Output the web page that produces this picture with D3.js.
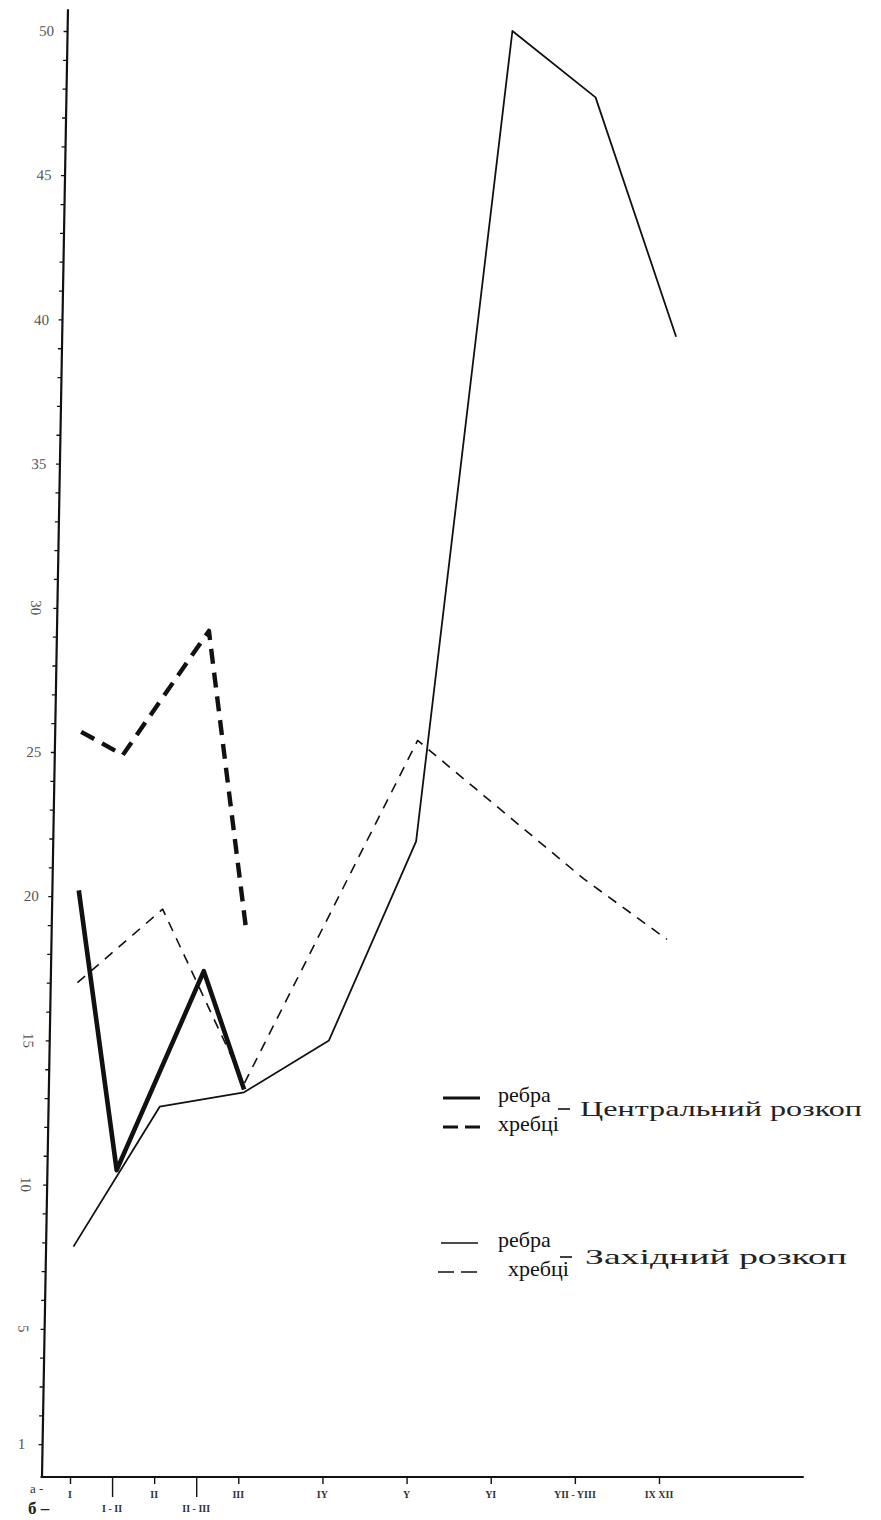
<!DOCTYPE html>
<html>
<head>
<meta charset="utf-8">
<script src="https://cdn.jsdelivr.net/npm/d3@7"></script>
<style>
  html, body { margin: 0; padding: 0; background: #fff; }
  svg { display: block; }
</style>
</head>
<body>
<div id="chart"></div>
<script>
// ---------- DATA ----------
// x categories (row "а" = main periods, row "б" = transitional periods)
const categories = ["I", "I - II", "II", "II - III", "III", "IY", "Y", "YI", "YII - YIII", "IX  XII"];
const categoryIndex = [1, 1.5, 2, 2.5, 3, 4, 5, 6, 7, 8];
const categoryRow = ["a", "b", "a", "b", "a", "a", "a", "a", "a", "a"];

// Центральний розкоп
const centralRibsCats = ["I", "I - II", "II - III", "III"];
const centralRibsVals = [20.2, 10.5, 17.4, 13.3];
const centralSpineCats = ["I", "I - II", "II - III", "III"];
const centralSpineVals = [25.7, 24.9, 29.2, 18.75];

// Західний розкоп
const westRibsCats = ["I", "II", "III", "IY", "Y", "YI", "YII - YIII", "IX  XII"];
const westRibsVals = [7.85, 12.7, 13.2, 15.0, 21.9, 50.0, 47.7, 39.4];
const westSpineCats = ["I", "II", "III", "Y", "YII - YIII", "IX  XII"];
const westSpineVals = [17.0, 19.55, 13.5, 25.4, 20.6, 18.5];

// y axis ticks
const yMinorTicks = d3.range(1, 51);
const yLabelTicks = [1, 5, 10, 15, 20, 25, 30, 35, 40, 45, 50];
const yRotatedLabels = [5, 10, 15, 30];

// legend
const legendRowLabels = ["ребра", "хребці", "ребра", "хребці"];
const legendGroupLabels = ["Центральний розкоп", "Західний розкоп"];

// ---------- LAYOUT ----------
const W = 881, H = 1520;
const svg = d3.select("#chart").append("svg").attr("width", W).attr("height", H);

const x = d3.scaleLinear().domain([1, 8]).range([70, 659]);
const y = d3.scaleLinear().domain([0, 50]).range([1473, 31]);
const baseY = 1477;

const pos = c => categoryIndex[categories.indexOf(c)];
const zip = (cats, vals) => cats.map((c, i) => ({ c, v: vals[i] }));

// skew (hand-drawn slanted vertical axis)
const kAxis = 0.0177, kData = 0.0150;
const skew = k => `matrix(1,0,${-k},1,${k * baseY},0)`;

const ink = "#111";

// ---------- Y AXIS ----------
const yAxisG = svg.append("g").attr("transform", skew(kAxis));
const gY = yAxisG.append("g").attr("transform", "translate(42,0)")
  .call(d3.axisLeft(y).tickValues(yMinorTicks).tickSize(4).tickFormat(""));
gY.select(".domain").remove();
gY.selectAll(".tick line").attr("stroke", ink).attr("stroke-width", 1.3);
yAxisG.append("line")
  .attr("x1", 42).attr("x2", 42)
  .attr("y1", y(-0.14)).attr("y2", y(50.75))
  .attr("stroke", ink).attr("stroke-width", 2.2);

yAxisG.selectAll("text.ylab").data(yLabelTicks).join("text")
  .attr("class", "ylab")
  .attr("transform", d => `translate(${42 - 21},${y(d)}) rotate(${yRotatedLabels.includes(d) ? 90 : 0})`)
  .attr("text-anchor", "middle")
  .attr("dy", "0.35em")
  .attr("font-family", "Liberation Serif, Times New Roman, serif")
  .attr("font-size", 15)
  .attr("fill", "#555")
  .text(d => d);

// ---------- X AXIS ----------
const gX = svg.append("g").attr("transform", `translate(0,${baseY})`);
gX.append("line")
  .attr("x1", x(0.65)).attr("x2", x(9.72))
  .attr("y1", 0).attr("y2", 0)
  .attr("stroke", ink).attr("stroke-width", 1.8);
const xTicks = gX.append("g")
  .call(d3.axisBottom(x).tickValues(categoryIndex).tickSize(7).tickFormat(""));
xTicks.select(".domain").remove();
xTicks.selectAll(".tick line")
  .attr("stroke", ink).attr("stroke-width", 1.4)
  .attr("y2", (d, i) => categoryRow[i] === "b" ? 20 : 7);

gX.selectAll("text.xlab").data(categories).join("text")
  .attr("class", "xlab")
  .attr("x", (d, i) => x(categoryIndex[i]))
  .attr("y", (d, i) => categoryRow[i] === "b" ? 35 : 21)
  .attr("text-anchor", "middle")
  .attr("font-family", "Liberation Serif, Times New Roman, serif")
  .attr("font-weight", "bold")
  .attr("font-size", 10)
  .attr("fill", "#333")
  .text(d => d);

gX.append("text").attr("x", 30).attr("y", 16)
  .attr("font-family", "Liberation Serif, serif").attr("font-size", 13)
  .attr("fill", "#333").text("а -");
gX.append("text").attr("x", 28).attr("y", 37)
  .attr("font-family", "Liberation Serif, serif").attr("font-size", 17).attr("font-weight", "bold")
  .attr("fill", "#222").text("б –");

// ---------- SERIES ----------
const line = d3.line().x(d => x(pos(d.c))).y(d => y(d.v));
const plot = svg.append("g").attr("transform", skew(kData));

const seriesStyles = [
  { data: zip(westRibsCats, westRibsVals), width: 1.8, dash: null },
  { data: zip(westSpineCats, westSpineVals), width: 1.6, dash: "10,8" },
  { data: zip(centralRibsCats, centralRibsVals), width: 4.6, dash: null },
  { data: zip(centralSpineCats, centralSpineVals), width: 4.4, dash: "15,9" }
];
plot.selectAll("path.series").data(seriesStyles).join("path")
  .attr("class", "series")
  .attr("d", d => line(d.data))
  .attr("fill", "none")
  .attr("stroke", ink)
  .attr("stroke-width", d => d.width)
  .attr("stroke-dasharray", d => d.dash)
  .attr("stroke-linejoin", "round")
  .attr("stroke-linecap", "butt");

// ---------- LEGEND ----------
const legend = svg.append("g").attr("font-family", "Liberation Serif, Times New Roman, serif").attr("fill", ink);
const legendItems = [
  { y: 1098, width: 3.2, dash: null, label: legendRowLabels[0], lx: 498, x1: 443, x2: 480 },
  { y: 1127, width: 3.0, dash: "15,7", label: legendRowLabels[1], lx: 498, x1: 443, x2: 483 },
  { y: 1243, width: 1.6, dash: null, label: legendRowLabels[2], lx: 498, x1: 441, x2: 478 },
  { y: 1272, width: 1.5, dash: "16,7", label: legendRowLabels[3], lx: 508, x1: 438, x2: 478 }
];
legend.selectAll("line.sw").data(legendItems).join("line")
  .attr("class", "sw")
  .attr("x1", d => d.x1).attr("x2", d => d.x2)
  .attr("y1", d => d.y).attr("y2", d => d.y)
  .attr("stroke", ink).attr("stroke-width", d => d.width)
  .attr("stroke-dasharray", d => d.dash);
legend.selectAll("text.rl").data(legendItems).join("text")
  .attr("class", "rl")
  .attr("x", d => d.lx).attr("y", d => d.y + 4)
  .attr("font-size", 22)
  .text(d => d.label);

const groups = [
  { y: 1116, dx1: 558, dx2: 570, tx: 580, len: 282, label: legendGroupLabels[0] },
  { y: 1264, dx1: 560, dx2: 572, tx: 585, len: 262, label: legendGroupLabels[1] }
];
legend.selectAll("line.gd").data(groups).join("line")
  .attr("class", "gd")
  .attr("x1", d => d.dx1).attr("x2", d => d.dx2)
  .attr("y1", d => d.y - 7).attr("y2", d => d.y - 7)
  .attr("stroke", ink).attr("stroke-width", 1.6);
legend.selectAll("text.gl").data(groups).join("text")
  .attr("class", "gl")
  .attr("x", d => d.tx).attr("y", d => d.y)
  .attr("font-size", 21)
  .attr("fill", "#222")
  .attr("textLength", d => d.len)
  .attr("lengthAdjust", "spacingAndGlyphs")
  .text(d => d.label);
</script>
</body>
</html>
